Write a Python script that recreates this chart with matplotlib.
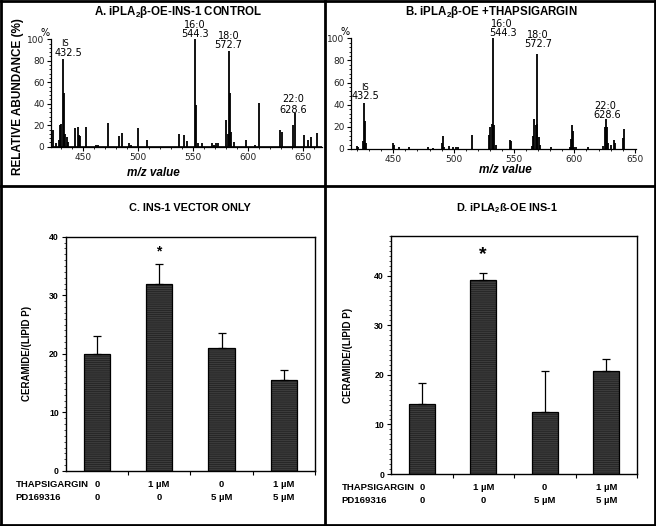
import matplotlib
matplotlib.use("Agg")
import matplotlib.pyplot as plt
from matplotlib.ticker import MultipleLocator
from matplotlib.lines import Line2D
import numpy as np

plt.rcParams['mathtext.fontset'] = 'custom'
plt.rcParams['mathtext.rm'] = 'Liberation Sans:bold'
plt.rcParams['mathtext.it'] = 'Liberation Sans:bold:italic'
plt.rcParams['mathtext.bf'] = 'Liberation Sans:bold'

# ---------------- data ----------------
# Panel A spectrum (m/z, relative abundance %)
spec_a_mz = [423.3, 426.0, 428.5, 429.4, 430.3, 431.8, 433.0, 434.0, 435.5, 436.4,
             443.0, 445.5, 447.0, 447.6, 453.0, 462.0, 463.5, 472.7, 482.7, 485.5,
             492.4, 493.5, 500.6, 508.0, 537.6, 542.4, 545.0, 551.5, 553.0, 555.0,
             558.0, 567.6, 568.8, 571.0, 573.0, 580.3, 581.5, 582.7, 583.6, 584.5,
             587.0, 598.0, 606.7, 609.7, 629.4, 631.0, 641.0, 642.4, 651.0, 655.0,
             657.0, 662.7]
spec_a_int = [16, 3, 6, 20, 21, 82, 50, 12, 9, 4,
              17, 18, 11, 10, 18, 2, 1.5, 22, 10, 13,
              3, 2, 17, 6, 12, 11, 5, 100, 39, 3,
              3, 3, 2, 3, 3, 25, 12, 89, 50, 14,
              4, 6, 1.5, 41, 16, 14, 20, 31, 11, 6,
              9, 13]
# Panel B spectrum
spec_b_mz = [419.7, 421.0, 424.6, 425.7, 426.5, 427.2, 450.0, 450.6, 455.0, 463.0,
             479.0, 483.0, 490.0, 490.8, 492.3, 496.0, 499.6, 501.7, 503.6, 514.8,
             529.4, 530.4, 531.4, 532.2, 533.3, 534.7, 546.6, 547.4, 564.5, 565.9,
             566.7, 567.8, 568.6, 569.4, 570.3, 571.4, 581.0, 596.0, 597.0, 597.9,
             598.7, 599.8, 601.7, 611.4, 623.8, 625.2, 626.0, 627.1, 628.2, 630.7,
             632.6, 633.4, 640.3, 641.2]
spec_b_int = [3, 2, 7, 42, 25, 5, 5, 4, 2, 1.5,
              2, 1, 5, 12, 2, 3, 2, 2, 2, 13,
              13, 20, 23, 100, 22, 4, 8, 7, 3, 12,
              27, 22, 86, 23, 11, 4, 2, 2, 9, 22,
              16, 2, 1.5, 1.5, 3, 20, 27, 20, 5, 4,
              8, 5, 10, 18]

# Bar panels
thaps_labels = ["0", "1 \u00b5M", "0", "1 \u00b5M"]
pd_labels = ["0", "0", "5 \u00b5M", "5 \u00b5M"]
c_values = [20.0, 32.0, 21.0, 15.5]
c_err = [3.0, 3.3, 2.6, 1.7]
d_values = [14.1, 39.1, 12.6, 20.8]
d_err = [4.3, 1.5, 8.1, 2.3]

W, H = 656, 526
fig = plt.figure(figsize=(W / 100, H / 100), dpi=100)
fig.patch.set_facecolor('white')


def ax_px(l, t, r, b):
    return fig.add_axes([l / W, 1 - b / H, (r - l) / W, (b - t) / H])


BOLD = dict(family='Liberation Sans', fontweight='bold')
THIN = dict(family='DejaVu Sans')


def spectrum(ax, mz, inten, xlim, labels, title, title_xy, xlabel_xy):
    ax.vlines(mz, 0, inten, color='black', lw=1.3)
    ax.axhline(0.4, color='black', lw=0.6)
    ax.set_xlim(*xlim)
    ax.set_ylim(0, 100)
    for s in ['top', 'right']:
        ax.spines[s].set_visible(False)
    for s in ['left', 'bottom']:
        ax.spines[s].set_linewidth(0.9)
    ax.xaxis.set_major_locator(MultipleLocator(50))
    ax.xaxis.set_minor_locator(MultipleLocator(10))
    ax.yaxis.set_major_locator(MultipleLocator(20))
    ax.yaxis.set_minor_locator(MultipleLocator(4))
    ax.tick_params(axis='both', which='major', length=3, width=0.8, labelsize=6.5, pad=1.5)
    ax.tick_params(axis='both', which='minor', length=1.5, width=0.6)
    for lab in ax.get_xticklabels() + ax.get_yticklabels():
        lab.set_family('DejaVu Sans')
        lab.set_color('#222222')
    for (x, y, s, fs) in labels:
        ax.text(x, y, s, ha='center', va='center', fontsize=fs, clip_on=False, **THIN)
    ax.text(-0.02, 1.06, '%', transform=ax.transAxes, ha='center', va='center', fontsize=7, **THIN)
    fig.text(title_xy[0] / W, 1 - title_xy[1] / H, title, ha='center', va='center', fontsize=8.3, **BOLD)
    fig.text(xlabel_xy[0] / W, 1 - xlabel_xy[1] / H, 'm/z value', ha='center', va='center',
             fontsize=8.5, family='Liberation Sans', fontweight='bold', style='italic')


# Panel A
axA = ax_px(50.7, 39.3, 321.7, 146.7)
spectrum(axA, spec_a_mz, spec_a_int, (420.9, 667),
         [(434, 96.5, 'IS', 6), (437, 87, '432.5', 7), (552, 113.5, '16:0', 7), (552, 104.5, '544.3', 7),
          (582.4, 103, '18:0', 7), (582.4, 94.5, '572.7', 7), (641.5, 44, '22:0', 7),
          (641.5, 34, '628.6', 7)],
         'A. iPLA$_2$β-OE-INS-1 CONTROL', (178, 11.5), (153, 173))
fig.text(18 / W, 1 - 97 / H, 'RELATIVE ABUNDANCE (%)', rotation=90, ha='center', va='center',
         fontsize=8.5, **BOLD)

# Panel B
axB = ax_px(350.7, 38.3, 636.0, 149.0)
spectrum(axB, spec_b_mz, spec_b_int, (414.7, 651),
         [(426.5, 55.5, 'IS', 6), (426.5, 48, '432.5', 7), (540, 113, '16:0', 7), (540.5, 104.5, '544.3', 7),
          (570, 103, '18:0', 7), (570, 95, '572.7', 7), (625.2, 39, '22:0', 7),
          (627.5, 31, '628.6', 7)],
         'B. iPLA$_2$β-OE +THAPSIGARGIN', (491, 12), (505, 170))


def bars(ax, vals, errs, ymax, yticks, star_y, star_size, title, title_xy, ylabel_x, row_x):
    x = np.arange(len(vals))
    ax.bar(x, vals, width=0.42, color='#1f1f1f', edgecolor='#3c3c3c', linewidth=0,
           hatch='--------', zorder=2)
    ax.bar(x, vals, width=0.42, fill=False, edgecolor='black', linewidth=0.9, zorder=2.5)
    ax.errorbar(x, vals, yerr=[np.zeros(len(errs)), errs], fmt='none', ecolor='black',
                elinewidth=0.9, capsize=3, capthick=0.9, zorder=3)
    ax.set_xlim(-0.5, 3.5)
    ax.set_ylim(0, ymax)
    ax.set_yticks(yticks)
    ax.yaxis.set_minor_locator(MultipleLocator(1))
    ax.set_xticks([0.5, 1.5, 2.5, 3.5])
    ax.set_xticklabels([])
    ax.tick_params(axis='y', which='major', length=3, width=0.8, labelsize=6.3, pad=2)
    ax.tick_params(axis='y', which='minor', length=1.5, width=0.5)
    ax.tick_params(axis='x', which='major', length=3, width=0.8)
    for lab in ax.get_yticklabels():
        lab.set_family('Liberation Sans')
        lab.set_fontweight('bold')
    for s in ax.spines.values():
        s.set_linewidth(1.0)
    ax.text(1, star_y, '*', ha='center', va='center', fontsize=star_size, **BOLD)
    ax.set_ylabel('CERAMIDE/(LIPID P)', fontsize=7, labelpad=4, **BOLD)
    ax.yaxis.set_label_coords(ylabel_x, 0.5)
    fig.text(title_xy[0] / W, 1 - title_xy[1] / H, title, ha='center', va='center', fontsize=7.8, **BOLD)
    tr = ax.get_xaxis_transform()
    y1 = -0.058
    y2 = -0.112
    ax.text(row_x, y1, 'THAPSIGARGIN', transform=ax.transAxes, ha='left', va='center', fontsize=6.8, **BOLD)
    ax.text(row_x, y2, 'PD169316', transform=ax.transAxes, ha='left', va='center', fontsize=6.8, **BOLD)
    for i in range(len(vals)):
        ax.text(i, y1, thaps_labels[i], transform=tr, ha='center', va='center', fontsize=6.8, **BOLD)
        ax.text(i, y2, pd_labels[i], transform=tr, ha='center', va='center', fontsize=6.8, **BOLD)


axC = ax_px(65.7, 236.7, 315.0, 471.0)
bars(axC, c_values, c_err, 40, [0, 10, 20, 30, 40], 37.4, 10,
     'C. INS-1 VECTOR ONLY', (190, 208), -0.135, -0.2)
axD = ax_px(391.0, 236.0, 637.0, 474.0)
bars(axD, d_values, d_err, 48, [0, 10, 20, 30, 40], 44.3, 14,
     'D. iPLA$_2$ß-OE INS-1', (507, 208), -0.155, -0.2)

# frame lines
lw = 2.0
def fline(x0, y0, x1, y1):
    fig.add_artist(Line2D([x0 / W, x1 / W], [1 - y0 / H, 1 - y1 / H], color='black', lw=lw,
                          transform=fig.transFigure))

fline(1, 1, 655, 1)
fline(1, 525, 655, 525)
fline(1, 1, 1, 525)
fline(655, 1, 655, 525)
fline(324.5, 1, 324.5, 525)
fline(1, 186, 655, 186)

fig.savefig('out.png', dpi=100, facecolor='white')
